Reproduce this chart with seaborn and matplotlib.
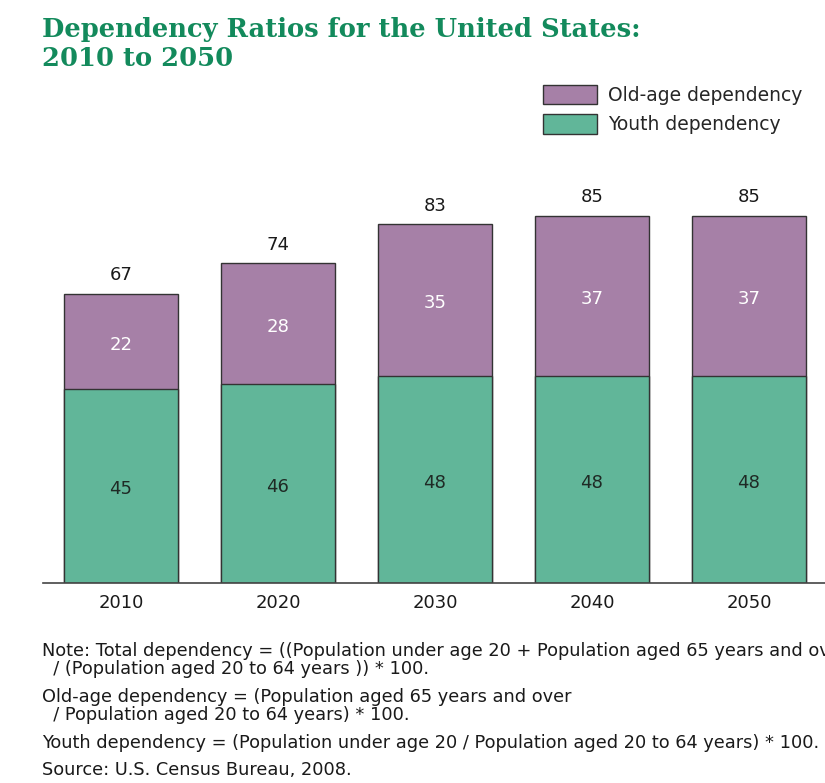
import matplotlib
matplotlib.use("Agg")
import matplotlib.pyplot as plt
from matplotlib.patches import Patch
import seaborn as sns
import pandas as pd

years = ["2010", "2020", "2030", "2040", "2050"]
youth = [45, 46, 48, 48, 48]
old_age = [22, 28, 35, 37, 37]
total = [67, 74, 83, 85, 85]

PURPLE = "#a680a7"
GREEN = "#61b699"
EDGE = "#333333"
TITLE_GREEN = "#138a5c"

sns.set_theme(style="white")
plt.rcParams["font.family"] = ["DejaVu Sans"]

df = pd.DataFrame({"year": years, "youth": youth, "old": old_age, "total": total})

W, H = 825, 783
fig = plt.figure(figsize=(W / 100, H / 100), dpi=100)

# plot area: x from index -0.5 at px 42, 157 px per category; baseline at px 583
px_per_cat = 157.0
x0_px = 121.5 - 0.5 * px_per_cat - 0.5
xmax = 4.6
ax_w = (xmax + 0.5) * px_per_cat
ymax = 90
px_per_unit = 4.32
ax_h = ymax * px_per_unit
base_px = 583
ax = fig.add_axes([x0_px / W, (H - base_px) / H, ax_w / W, ax_h / H])

# stacked bars: full total in purple, youth share drawn over it in green
sns.barplot(data=df, x="year", y="total", color=PURPLE, width=0.72,
            edgecolor=EDGE, linewidth=1.0, saturation=1, ax=ax)
sns.barplot(data=df, x="year", y="youth", color=GREEN, width=0.72,
            edgecolor=EDGE, linewidth=1.0, saturation=1, ax=ax)

ax.set_xlim(-0.5, xmax)
ax.set_ylim(0, ymax)
for s in ["top", "right", "left"]:
    ax.spines[s].set_visible(False)
ax.spines["bottom"].set_color("#444444")
ax.spines["bottom"].set_linewidth(1.2)
ax.set_yticks([])
ax.set_xlabel("")
ax.set_ylabel("")
ax.tick_params(axis="x", length=0, pad=8, labelsize=13, labelcolor="#1a1a1a")

for i in range(len(years)):
    ax.text(i, youth[i] / 2 - 0.8, str(youth[i]), ha="center", va="center",
            fontsize=13, color="#1f2a25")
    ax.text(i, youth[i] + old_age[i] / 2 - 0.8, str(old_age[i]), ha="center",
            va="center", fontsize=13, color="white")
    ax.text(i, total[i] + 2.2, str(total[i]), ha="center", va="bottom",
            fontsize=13, color="#1a1a1a")

# title
title_font = dict(ha="left", va="center", fontsize=18.5, fontweight="bold",
                  family="DejaVu Serif", color=TITLE_GREEN)
fig.text(42 / W, 1 - 30 / H, "Dependency Ratios for the United States:", **title_font)
fig.text(42 / W, 1 - 58 / H, "2010 to 2050", **title_font)

# legend
handles = [Patch(facecolor=PURPLE, edgecolor=EDGE, linewidth=1.0),
           Patch(facecolor=GREEN, edgecolor=EDGE, linewidth=1.0)]
fig.legend(handles, ["Old-age dependency", "Youth dependency"],
           loc="upper left", bbox_to_anchor=(535 / W, 1 - 77 / H),
           frameon=False, fontsize=13.5, handlelength=2.9, handleheight=1.25,
           handletextpad=0.6, labelspacing=0.5, borderaxespad=0)

# notes
note_font = dict(family=["DejaVu Sans"], fontsize=12.8,
                 color="#1a1a1a", ha="left", va="center")
notes = [
    (651, "Note: Total dependency = ((Population under age 20 + Population aged 65 years and over"),
    (669, "  / (Population aged 20 to 64 years )) * 100."),
    (697, "Old-age dependency = (Population aged 65 years and over"),
    (715, "  / Population aged 20 to 64 years) * 100."),
    (743, "Youth dependency = (Population under age 20 / Population aged 20 to 64 years) * 100."),
    (770, "Source: U.S. Census Bureau, 2008."),
]
for y, t in notes:
    fig.text(42 / W, 1 - y / H, t, **note_font)

fig.savefig("out.png", dpi=100)
